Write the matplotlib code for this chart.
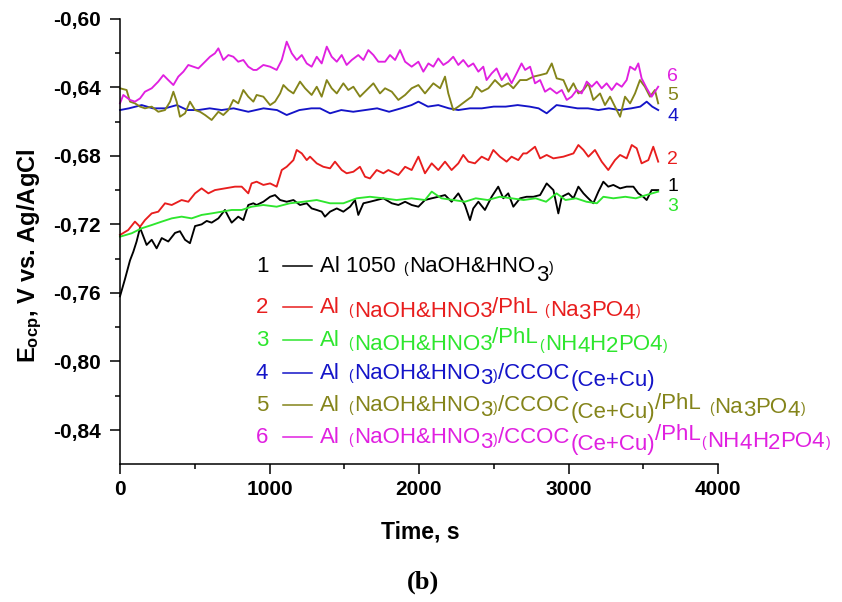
import matplotlib
matplotlib.use("Agg")
import matplotlib.pyplot as plt
from matplotlib.lines import Line2D

plt.rcParams['font.family'] = ['Liberation Sans', 'DejaVu Sans']
plt.rcParams['mathtext.fontset'] = 'custom'
plt.rcParams['mathtext.rm'] = 'Liberation Sans'
plt.rcParams['mathtext.bf'] = 'Liberation Sans:bold'
plt.rcParams['mathtext.it'] = 'Liberation Sans:italic'

# ---------------- open-circuit potential transients (V vs. Ag/AgCl) ----------------
# 1: Al 1050 (NaOH&HNO3)
t1 = [0, 33, 67, 89, 111, 134, 156, 178, 212, 245, 279, 323, 368, 401, 435, 468, 502, 546,
      580, 613, 658, 702, 725, 747, 791, 825, 858, 892, 914, 959, 1004, 1037, 1071, 1115,
      1160, 1204, 1249, 1282, 1316, 1349, 1371, 1405, 1450, 1494, 1539, 1572, 1594, 1628,
      1672, 1717, 1762, 1818, 1862, 1907, 1951, 1996, 2040, 2085, 2129, 2174, 2218, 2263,
      2307, 2341, 2363, 2397, 2441, 2486, 2530, 2564, 2597, 2631, 2676, 2720, 2765, 2810,
      2854, 2899, 2932, 2955, 3000, 3033, 3066, 3100, 3122, 3166, 3200, 3233, 3266, 3300,
      3345, 3389, 3434, 3467, 3500, 3523, 3556, 3600]
v1 = [-0.762, -0.752, -0.741, -0.736, -0.730, -0.722, -0.727, -0.732, -0.729, -0.734, -0.728,
      -0.730, -0.725, -0.724, -0.729, -0.731, -0.721, -0.720, -0.718, -0.719, -0.7165,
      -0.7116, -0.7155, -0.719, -0.7155, -0.7175, -0.7087, -0.7077, -0.7087, -0.7068,
      -0.7039, -0.7029, -0.7058, -0.7068, -0.7058, -0.7087, -0.7077, -0.7107, -0.7116,
      -0.7126, -0.7155, -0.7126, -0.7107, -0.7126, -0.7097, -0.7058, -0.7145, -0.7077,
      -0.7068, -0.7058, -0.7048, -0.7077, -0.7087, -0.7068, -0.7087, -0.7097, -0.7058,
      -0.7048, -0.7039, -0.7029, -0.7068, -0.7019, -0.7087, -0.7175, -0.7107, -0.7068,
      -0.7116, -0.7039, -0.6980, -0.7048, -0.7019, -0.7097, -0.7048, -0.7039, -0.7039,
      -0.7029, -0.6961, -0.7000, -0.7136, -0.7039, -0.7019, -0.7048, -0.6980, -0.7019,
      -0.7039, -0.7077, -0.7009, -0.6951, -0.6980, -0.6970, -0.6990, -0.6980, -0.6980,
      -0.7019, -0.7039, -0.7058, -0.7000, -0.7000]

# 2: Al (NaOH&HNO3)/PhL (Na3PO4)
t2 = [0, 55, 100, 134, 167, 212, 256, 301, 346, 412, 457, 502, 546, 591, 635, 702, 769, 814,
      858, 880, 914, 959, 1004, 1048, 1082, 1115, 1160, 1182, 1216, 1249, 1271, 1316, 1360,
      1405, 1438, 1483, 1516, 1561, 1605, 1639, 1672, 1717, 1762, 1795, 1818, 1862, 1907,
      1951, 1996, 2040, 2085, 2129, 2174, 2218, 2263, 2296, 2330, 2374, 2419, 2464, 2497,
      2541, 2586, 2619, 2664, 2697, 2720, 2776, 2810, 2854, 2899, 2966, 3033, 3066, 3100,
      3133, 3177, 3222, 3266, 3311, 3345, 3389, 3423, 3456, 3489, 3534, 3567, 3600]
v2 = [-0.7262, -0.7233, -0.7184, -0.7214, -0.7175, -0.7136, -0.7126, -0.7077, -0.7087,
      -0.7058, -0.7068, -0.7019, -0.6990, -0.7019, -0.7000, -0.6990, -0.6980, -0.6980,
      -0.7019, -0.6961, -0.6951, -0.6970, -0.6961, -0.6980, -0.6883, -0.6864, -0.6825,
      -0.6766, -0.6786, -0.6825, -0.6805, -0.6844, -0.6864, -0.6873, -0.6834, -0.6883,
      -0.6902, -0.6893, -0.6864, -0.6922, -0.6932, -0.6883, -0.6902, -0.6883, -0.6893,
      -0.6912, -0.6864, -0.6883, -0.6805, -0.6902, -0.6844, -0.6883, -0.6834, -0.6883,
      -0.6844, -0.6795, -0.6834, -0.6844, -0.6805, -0.6825, -0.6766, -0.6805, -0.6834,
      -0.6805, -0.6825, -0.6786, -0.6786, -0.6747, -0.6815, -0.6795, -0.6815, -0.6805,
      -0.6786, -0.6737, -0.6766, -0.6805, -0.6766, -0.6834, -0.6883, -0.6825, -0.6795,
      -0.6815, -0.6737, -0.6756, -0.6844, -0.6825, -0.6747, -0.6834]

# 3: Al (NaOH&HNO3)/PhL (NH4H2PO4)
t3 = [0, 78, 145, 212, 279, 346, 412, 479, 546, 613, 680, 747, 814, 880, 959, 1048, 1137,
      1227, 1316, 1405, 1494, 1583, 1672, 1762, 1850, 1950, 2040, 2085, 2150, 2230, 2307,
      2380, 2460, 2540, 2620, 2700, 2780, 2850, 2920, 2980, 3050, 3120, 3190, 3233, 3300,
      3380, 3450, 3520, 3600]
v3 = [-0.7272, -0.7252, -0.7223, -0.7204, -0.7184, -0.7165, -0.7155, -0.7165, -0.7145,
      -0.7136, -0.7126, -0.7116, -0.7116, -0.7097, -0.7087, -0.7097, -0.7077, -0.7068,
      -0.7058, -0.7077, -0.7077, -0.7048, -0.7039, -0.7048, -0.7058, -0.7048, -0.7058,
      -0.7009, -0.7048, -0.7058, -0.7068, -0.7048, -0.7058, -0.7039, -0.7048, -0.7058,
      -0.7048, -0.7068, -0.7019, -0.7058, -0.7048, -0.7068, -0.7077, -0.7039, -0.7048,
      -0.7039, -0.7048, -0.7029, -0.7009]

# 4: Al (NaOH&HNO3)/CCOC (Ce+Cu)
t4 = [0, 60, 145, 220, 301, 380, 450, 524, 600, 680, 760, 858, 960, 1050, 1115, 1200, 1280,
      1338, 1405, 1480, 1560, 1640, 1720, 1800, 1880, 1950, 1996, 2060, 2129, 2200, 2263,
      2340, 2420, 2500, 2580, 2660, 2740, 2800, 2854, 2920, 2990, 3060, 3130, 3200, 3270,
      3340, 3420, 3480, 3523, 3560, 3600]
v4 = [-0.6533, -0.6523, -0.6504, -0.6523, -0.6523, -0.6504, -0.6533, -0.6533, -0.6523,
      -0.6533, -0.6523, -0.6543, -0.6523, -0.6533, -0.6562, -0.6533, -0.6523, -0.6523,
      -0.6552, -0.6533, -0.6543, -0.6533, -0.6523, -0.6543, -0.6523, -0.6504, -0.6484,
      -0.6513, -0.6504, -0.6523, -0.6533, -0.6523, -0.6523, -0.6513, -0.6513, -0.6504,
      -0.6513, -0.6523, -0.6552, -0.6504, -0.6513, -0.6523, -0.6523, -0.6533, -0.6523,
      -0.6533, -0.6523, -0.6513, -0.6484, -0.6513, -0.6533]

# 5: Al (NaOH&HNO3)/CCOC (Ce+Cu)/PhL (Na3PO4)
t5 = [0, 44, 67, 100, 134, 167, 212, 256, 301, 335, 357, 379, 401, 435, 468, 502, 535, 569,
      613, 658, 691, 725, 758, 791, 825, 858, 892, 914, 959, 1004, 1037, 1071, 1093, 1126,
      1160, 1204, 1238, 1282, 1316, 1349, 1383, 1416, 1450, 1494, 1527, 1561, 1605, 1650,
      1695, 1739, 1773, 1818, 1862, 1907, 1951, 1996, 2040, 2096, 2141, 2174, 2196, 2229,
      2263, 2307, 2352, 2385, 2419, 2464, 2508, 2553, 2597, 2631, 2676, 2720, 2765, 2810,
      2854, 2888, 2921, 2966, 3000, 3033, 3066, 3100, 3133, 3166, 3211, 3244, 3278, 3311,
      3345, 3378, 3412, 3445, 3478, 3511, 3545, 3578, 3600]
v5 = [-0.6406, -0.6416, -0.6484, -0.6494, -0.6513, -0.6523, -0.6513, -0.6543, -0.6533,
      -0.6484, -0.6426, -0.6484, -0.6572, -0.6552, -0.6484, -0.6533, -0.6543, -0.6562,
      -0.6591, -0.6543, -0.6562, -0.6533, -0.6474, -0.6494, -0.6416, -0.6455, -0.6484,
      -0.6445, -0.6455, -0.6504, -0.6484, -0.6436, -0.6387, -0.6416, -0.6436, -0.6367,
      -0.6406, -0.6445, -0.6397, -0.6455, -0.6358, -0.6406, -0.6436, -0.6377, -0.6416,
      -0.6397, -0.6455, -0.6416, -0.6377, -0.6436, -0.6406, -0.6426, -0.6474, -0.6445,
      -0.6406, -0.6387, -0.6436, -0.6377, -0.6406, -0.6338, -0.6436, -0.6533, -0.6513,
      -0.6484, -0.6455, -0.6397, -0.6426, -0.6406, -0.6358, -0.6397, -0.6377, -0.6406,
      -0.6358, -0.6358, -0.6338, -0.6329, -0.6319, -0.6261, -0.6348, -0.6358, -0.6426,
      -0.6377, -0.6436, -0.6416, -0.6377, -0.6474, -0.6436, -0.6504, -0.6455, -0.6513,
      -0.6572, -0.6455, -0.6494, -0.6436, -0.6358, -0.6397, -0.6455, -0.6416, -0.6494]

# 6: Al (NaOH&HNO3)/CCOC (Ce+Cu)/PhL (NH4H2PO4)
t6 = [0, 22, 67, 100, 134, 167, 212, 256, 290, 323, 357, 390, 424, 457, 490, 524, 569, 602,
      635, 658, 691, 725, 758, 791, 825, 858, 892, 914, 959, 1004, 1048, 1082, 1115, 1149,
      1182, 1216, 1249, 1282, 1316, 1349, 1383, 1416, 1450, 1483, 1516, 1550, 1594, 1628,
      1661, 1695, 1728, 1773, 1806, 1840, 1873, 1907, 1951, 1996, 2029, 2063, 2096, 2129,
      2163, 2196, 2229, 2263, 2296, 2330, 2363, 2397, 2430, 2452, 2486, 2519, 2553, 2586,
      2619, 2653, 2686, 2710, 2743, 2776, 2810, 2843, 2877, 2921, 2955, 2988, 3021, 3055,
      3088, 3122, 3155, 3189, 3222, 3255, 3289, 3322, 3356, 3389, 3412, 3445, 3467, 3489,
      3523, 3556, 3578, 3600]
v6 = [-0.6494, -0.6445, -0.6474, -0.6484, -0.6465, -0.6426, -0.6406, -0.6367, -0.6329,
      -0.6358, -0.6387, -0.6338, -0.6309, -0.6270, -0.6280, -0.6290, -0.6251, -0.6222,
      -0.6202, -0.6173, -0.6241, -0.6212, -0.6222, -0.6251, -0.6241, -0.6280, -0.6299,
      -0.6299, -0.6270, -0.6280, -0.6299, -0.6241, -0.6134, -0.6202, -0.6241, -0.6212,
      -0.6261, -0.6280, -0.6222, -0.6261, -0.6163, -0.6222, -0.6251, -0.6212, -0.6270,
      -0.6241, -0.6212, -0.6241, -0.6183, -0.6212, -0.6251, -0.6251, -0.6212, -0.6241,
      -0.6183, -0.6251, -0.6280, -0.6251, -0.6309, -0.6261, -0.6280, -0.6232, -0.6270,
      -0.6251, -0.6222, -0.6270, -0.6241, -0.6280, -0.6261, -0.6309, -0.6280, -0.6358,
      -0.6319, -0.6290, -0.6358, -0.6319, -0.6377, -0.6319, -0.6261, -0.6299, -0.6280,
      -0.6377, -0.6358, -0.6426, -0.6406, -0.6436, -0.6416, -0.6474, -0.6455, -0.6416,
      -0.6436, -0.6367, -0.6397, -0.6367, -0.6406, -0.6377, -0.6416, -0.6377, -0.6397,
      -0.6358, -0.6280, -0.6299, -0.6261, -0.6348, -0.6406, -0.6455, -0.6426, -0.6397]

series_t = [t1, t2, t3, t4, t5, t6]
series_v = [v1, v2, v3, v4, v5, v6]
series_ids = ['1', '2', '3', '4', '5', '6']
colors = ['#000000', '#e81e1e', '#2ee62e', '#1414c8', '#84841a', '#e020e0']

# potentials at which the curve-end tags are centred
end_tag_v = [-0.6982, -0.6824, -0.7093, -0.6568, -0.6448, -0.6338]

x_ticks = [0, 1000, 2000, 3000, 4000]
x_minor = [500, 1500, 2500, 3500]
y_ticks = [-0.84, -0.80, -0.76, -0.72, -0.68, -0.64, -0.60]
y_minor = [-0.82, -0.78, -0.74, -0.70, -0.66, -0.62]
y_tick_labels = ['-0,84', '-0,80', '-0,76', '-0,72', '-0,68', '-0,64', '-0,60']

# ---------------- figure ----------------
W, H = 842, 602
fig = plt.figure(figsize=(W / 100, H / 100), dpi=100)
ax_left, ax_right, ax_top, ax_bottom = 120, 718, 18.7, 464.3
ax = fig.add_axes([ax_left / W, 1 - ax_bottom / H,
                   (ax_right - ax_left) / W, (ax_bottom - ax_top) / H])

for t, v, c in zip(series_t, series_v, colors):
    ax.plot(t, v, color=c, lw=1.35, solid_joinstyle='round', clip_on=False)

ax.set_xlim(0, 4000)
ax.set_ylim(-0.86, -0.60)
for s in ('top', 'right'):
    ax.spines[s].set_visible(False)
for s in ('left', 'bottom'):
    ax.spines[s].set_linewidth(1.1)

ax.set_xticks(x_ticks)
ax.set_xticks(x_minor, minor=True)
ax.set_xticklabels([str(x) for x in x_ticks], fontsize=15, fontweight='bold')
ax.set_yticks(y_ticks)
ax.set_yticks(y_minor, minor=True)
ax.set_yticklabels(y_tick_labels, fontsize=15, fontweight='bold')
ax.tick_params(which='major', direction='out', length=7, width=1.1)
ax.tick_params(which='minor', direction='out', length=3.8, width=1.1)
ax.tick_params(axis='x', which='major', pad=4.5)
ax.tick_params(axis='y', which='major', pad=7)

# tags at the right-hand ends of the curves
for sid, yv, c in zip(series_ids, end_tag_v, colors):
    ax.text(3660, yv, sid, color=c, fontsize=14, ha='left', va='center', clip_on=False)

# axis titles
fig.text(420 / W, 1 - 532 / H, 'Time, s', fontsize=16.5, fontweight='bold',
         ha='center', va='center')
fig.text(30 / W, 1 - 256 / H, r'E$_{\mathbf{ocp}}$, V vs. Ag/AgCl', fontsize=17,
         fontweight='bold', rotation=90, ha='center', va='center')
fig.text(423 / W, 1 - 582 / H, '(b)', fontsize=19, fontweight='bold',
         family='Liberation Serif', ha='center', va='center')

# ---------------- legend with mixed-size chemical formulas ----------------
renderer = fig.canvas.get_renderer()
B, S = 16, 10


def rich_line(x0, base, parts, color):
    x = x0
    for txt, size, dy, gap in parts:
        x += gap
        t = fig.text(x / W, 1 - (base + dy) / H, txt, fontsize=size, color=color,
                     ha='left', va='baseline')
        x += t.get_window_extent(renderer).width
    return x


def formula_head(tail_gap=1):
    return [('Al', B, 0, 0), ('(', S, 1, 8), ('NaOH&HNO', B, 0, 1), ('3', B, 5, 0),
            (')', S, 1, tail_gap)]


legend_rows = [
    [('Al 1050', B, 0, 0), ('(', S, 1, 8), ('NaOH&HNO', B, 0, 1), ('3', B, 9, 0),
     (')', S, 0, 1)],
    [('Al', B, 0, 0), ('(', S, 2, 8), ('NaOH&HNO3', B, 4, 1), ('/PhL', B, 0, 0),
     ('(', S, 2, 6), ('Na', B, 3, 1), ('3', B, 6, 0), ('PO', B, 3, 0), ('4', B, 6, 0),
     (')', S, 2, 1)],
    [('Al', B, 0, 0), ('(', S, 2, 8), ('NaOH&HNO3', B, 4, 1), ('/PhL', B, -3, 0),
     ('(', S, 4, 1), ('NH', B, 4, 1), ('4', B, 6, 0), ('H', B, 4, 0), ('2', B, 6, 0),
     ('PO4', B, 4, 0), (')', S, 4, 1)],
    formula_head() + [('/CCOC', B, 0, 0), ('(Ce+Cu)', B, 7, 1)],
    formula_head() + [('/CCOC', B, 0, 0), ('(Ce+Cu)', B, 7, 1), ('/PhL', B, -2, 0),
                      ('(', S, 2, 8), ('Na', B, 2, 1), ('3', B, 5, 0), ('PO', B, 2, 0),
                      ('4', B, 5, 0), (')', S, 2, 1)],
    formula_head() + [('/CCOC', B, 0, 0), ('(Ce+Cu)', B, 7, 1), ('/PhL', B, -3, 0),
                      ('(', S, 4, 1), ('NH', B, 4, 1), ('4', B, 6, 0), ('H', B, 4, 0),
                      ('2', B, 6, 0), ('PO4', B, 4, 0), (')', S, 4, 1)],
]
legend_base = [272, 313, 346, 379, 411, 443]

for sid, row, base, c in zip(series_ids, legend_rows, legend_base, colors):
    fig.text(256 / W, 1 - base / H, sid, fontsize=B, color=c, ha='left', va='baseline')
    ymid = 1 - (base - 6) / H
    fig.add_artist(Line2D([283 / W, 312 / W], [ymid, ymid], color=c, lw=1.1))
    rich_line(320, base, row, c)

fig.savefig('out.png', dpi=100)
